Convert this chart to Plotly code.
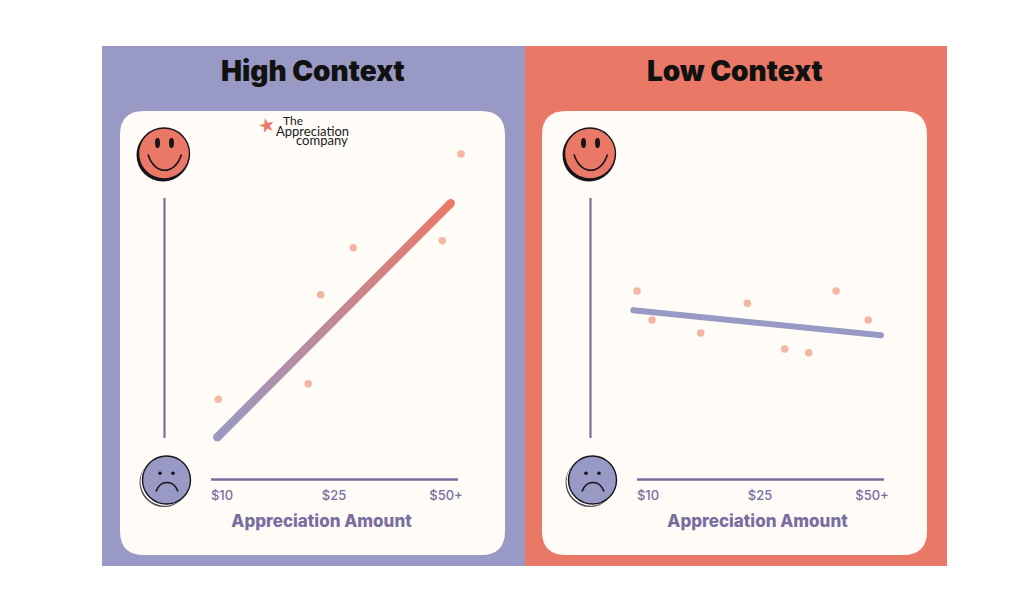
import numpy as np
import plotly.graph_objects as go

W, H = 1024, 614
PURPLE = "#9899C4"
CORAL = "#EA7866"
DOT = "#F4B5A3"
INK = "#7A6E9F"
CARD = "#FFFCF8"
DARK = "#16131A"

# tick positions run 0, 1, 2 for the three labels, satisfaction runs 0 to 100
tick_pos = [0, 1, 2]
tick_labels = ["$10", "$25", "$50+"]

high_x = [-0.033, 0.77, 0.881, 1.172, 1.967, 2.134]
high_y = [16.1, 22.6, 59.7, 79.2, 82.2, 118.3]
high_trend_x = [-0.042, 2.042]
high_trend_y = [0.3, 97.8]

low_x = [-0.098, 0.036, 0.471, 0.887, 1.221, 1.435, 1.679, 1.967]
low_y = [61.25, 49.2, 43.75, 56.1, 37.1, 35.5, 61.25, 49.2]
low_trend_x = [-0.131, 2.08]
low_trend_y = [53.2, 42.8]

axis_start, axis_end = -0.098, 2.107
y_range = [-19.79, 128.3]
PX_X = 112
PX_Y = 2.4


def px(x):
    return x / W


def py(y):
    return 1 - y / H


def rect(x0, y0, x1, y1, color):
    return dict(type="rect", xref="paper", yref="paper", layer="below",
                x0=px(x0), x1=px(x1), y0=py(y0), y1=py(y1),
                fillcolor=color, line_width=0)


def rounded(x0, y0, x1, y1, r, color):
    path = (f"M {px(x0 + r)} {py(y0)} L {px(x1 - r)} {py(y0)} "
            f"Q {px(x1)} {py(y0)} {px(x1)} {py(y0 + r)} L {px(x1)} {py(y1 - r)} "
            f"Q {px(x1)} {py(y1)} {px(x1 - r)} {py(y1)} L {px(x0 + r)} {py(y1)} "
            f"Q {px(x0)} {py(y1)} {px(x0)} {py(y1 - r)} L {px(x0)} {py(y0 + r)} "
            f"Q {px(x0)} {py(y0)} {px(x0 + r)} {py(y0)} Z")
    return dict(type="path", xref="paper", yref="paper", layer="below", path=path,
                fillcolor=color, line_width=0)


def ellipse(cx, cy, rx, ry, fill, line_color=None, line_width=0):
    return dict(type="circle", xref="paper", yref="paper", layer="below",
                x0=px(cx - rx), x1=px(cx + rx), y0=py(cy - ry), y1=py(cy + ry),
                fillcolor=fill, line_color=line_color, line_width=line_width)


def curve(x0, x1, y0, yc):
    path = (f"M {px(x0)} {py(y0)} C {px(x0 + (x1 - x0) * 0.2)} {py(yc)} "
            f"{px(x1 - (x1 - x0) * 0.2)} {py(yc)} {px(x1)} {py(y0)}")
    return dict(type="path", xref="paper", yref="paper", layer="below", path=path,
                line_color=DARK, line_width=1.6)


def happy(dx):
    cx, cy = 164 + dx, 153.5
    return [ellipse(cx - 1, cy + 1.5, 26.5, 26.5, DARK),
            ellipse(cx, cy, 25.5, 25.5, CORAL, DARK, 1.4),
            ellipse(cx - 6.5, cy - 10.5, 2.5, 5, DARK),
            ellipse(cx + 7.5, cy - 10.5, 2.5, 5, DARK),
            curve(cx - 16, cx + 17.5, cy + 1, cy + 22)]


def sad(dx):
    cx, cy = 166.5 + dx, 480
    return [ellipse(cx - 2.5, cy + 2.5, 24.5, 24.5, "#55505A"),
            ellipse(cx - 1.5, cy + 1.2, 24.5, 24.5, "white"),
            ellipse(cx, cy, 24, 24, PURPLE, DARK, 1.4),
            ellipse(cx - 6.5, cy - 6.7, 1.8, 1.8, DARK),
            ellipse(cx + 6.5, cy - 6.7, 1.8, 1.8, DARK),
            curve(cx - 10.5, cx + 11.5, cy + 11.5, cy - 0.5)]


def y_line(dx, yref):
    return dict(type="line", xref="paper", yref=yref, layer="below",
                x0=px(164.5 + dx), x1=px(164.5 + dx), y0=0, y1=100,
                line_color=INK, line_width=2.2)


def x_line(xref):
    return dict(type="line", xref=xref, yref="paper", layer="below",
                x0=axis_start, x1=axis_end, y0=py(479.5), y1=py(479.5),
                line_color=INK, line_width=2.5)


shapes = [rect(102, 46, 525, 566, PURPLE), rect(525, 46, 947, 566, CORAL),
          rounded(120, 111, 505, 555, 24, CARD), rounded(542, 111, 927, 555, 24, CARD)]
shapes += happy(0) + happy(426) + sad(0) + sad(426)
shapes += [y_line(0, "y"), y_line(426, "y2"), x_line("x"), x_line("x2")]

fig = go.Figure()

# thin band so the trend can carry a left to right colour gradient
dxp = (high_trend_x[1] - high_trend_x[0]) * PX_X
dyp = (high_trend_y[1] - high_trend_y[0]) * PX_Y
norm = np.hypot(dxp, dyp)
off_x = 4.2 * dyp / norm / PX_X
off_y = 4.2 * dxp / norm / PX_Y
fig.add_trace(go.Scatter(
    x=[high_trend_x[0] - off_x, high_trend_x[1] - off_x, high_trend_x[1] + off_x, high_trend_x[0] + off_x, high_trend_x[0] - off_x],
    y=[high_trend_y[0] + off_y, high_trend_y[1] + off_y, high_trend_y[1] - off_y, high_trend_y[0] - off_y, high_trend_y[0] + off_y],
    mode="none", fill="toself", xaxis="x", yaxis="y", showlegend=False,
    fillgradient=dict(type="horizontal", colorscale=[[0, PURPLE], [1, CORAL]])))
fig.add_trace(go.Scatter(x=high_trend_x, y=high_trend_y, mode="markers", xaxis="x", yaxis="y",
                         marker=dict(size=8.4, color=[PURPLE, CORAL]), showlegend=False, cliponaxis=False))
fig.add_trace(go.Scatter(x=high_x, y=high_y, mode="markers", xaxis="x", yaxis="y",
                         marker=dict(size=7.5, color=DOT), showlegend=False, cliponaxis=False))

fig.add_trace(go.Scatter(x=low_trend_x, y=low_trend_y, mode="lines+markers", xaxis="x2", yaxis="y2",
                         line=dict(color=PURPLE, width=6), marker=dict(size=6, color=PURPLE),
                         showlegend=False, cliponaxis=False))
fig.add_trace(go.Scatter(x=low_x, y=low_y, mode="markers", xaxis="x2", yaxis="y2",
                         marker=dict(size=7.5, color=DOT), showlegend=False, cliponaxis=False))


# domains are wider than the drawn baseline so the axis title sits where the reference has it
def x_axis(left, right, zero_px, anchor):
    return dict(domain=[px(left), px(right)],
                range=[(left - zero_px) / PX_X, (right - zero_px) / PX_X], anchor=anchor,
                tickvals=tick_pos, ticktext=tick_labels, ticks="", showgrid=False, zeroline=False,
                showline=False, automargin=False,
                tickfont=dict(family="Inter", size=13, color=INK, weight=500),
                title=dict(text="Appreciation Amount", standoff=13,
                           font=dict(family="Inter", size=17, color=INK, weight=800)))


def y_axis(anchor):
    return dict(domain=[py(485.5), py(130)], range=y_range, anchor=anchor, visible=False,
                automargin=False)


def label(text, x, y, size, color, weight=400, angle=0, family="Inter"):
    return dict(text=text, xref="paper", yref="paper", x=px(x), y=py(y), showarrow=False,
                xanchor="center", yanchor="middle", textangle=angle,
                font=dict(family=family, size=size, color=color, weight=weight))


fig.update_layout(
    width=W, height=H, autosize=False, margin=dict(l=0, r=0, t=0, b=0),
    paper_bgcolor="white", plot_bgcolor="rgba(0,0,0,0)", shapes=shapes,
    xaxis=x_axis(179, 464, 222, "y"), yaxis=y_axis("x"),
    xaxis2=x_axis(625, 890, 648, "y2"), yaxis2=y_axis("x2"),
    annotations=[label("High Context", 312.5, 71, 28, "#111111", 900),
                 label("Low Context", 735, 71, 28, "#111111", 900),
                 label("★", 266, 125, 19, CORAL, angle=-14, family="DejaVu Sans"),
                 label("The", 293, 121, 12, "#1A1A1A", family="Lato"),
                 label("Appreciation", 312, 130.5, 13, "#1A1A1A", family="Lato"),
                 label("company", 322, 140, 13, "#1A1A1A", family="Lato")])

fig.write_html("out.html", config={"displayModeBar": False},
               post_script="document.body.style.margin='0';")
